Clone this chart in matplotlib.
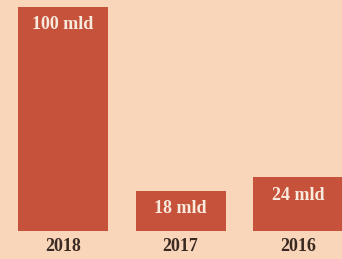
import matplotlib.pyplot as plt

# === DATA ===
years = ["2018", "2017", "2016"]
values = [100, 18, 24]
labels = ["100 mld", "18 mld", "24 mld"]

BG = "#F9D6BA"
BAR = "#C6523B"

fig = plt.figure(figsize=(3.42, 2.59), dpi=100, facecolor=BG)
ax = fig.add_axes([0, 0, 1, 1])
ax.set_facecolor(BG)

x = range(len(years))
ax.bar(x, values, width=0.766, color=BAR)

for i, (v, lab) in enumerate(zip(values, labels)):
    ax.annotate(lab, (i, v), xytext=(0, -18), textcoords="offset pixels",
                ha="center", va="center", color="#F8EADC",
                fontsize=13, fontweight="bold", family="Liberation Serif")
    ax.text(i, -6.8, years[i], ha="center", va="center", color="#3A2A22",
            fontsize=13, fontweight="bold", family="Liberation Serif")

ax.set_xlim(-0.536, 2.374)
ax.set_ylim(-12.5, 103.1)
ax.axis("off")

fig.savefig("out.png", dpi=100, facecolor=BG)
